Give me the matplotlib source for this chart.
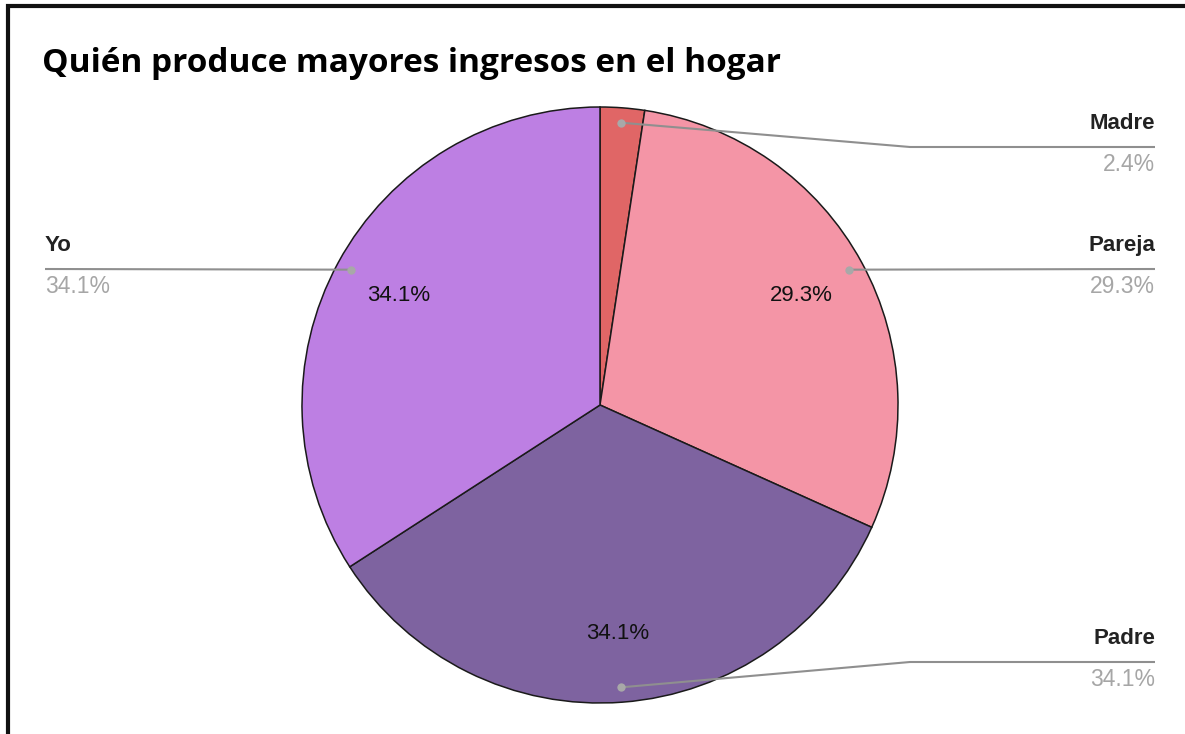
import numpy as np
from matplotlib import pyplot as plt

W, H = 1185, 734

labels = ["Madre", "Pareja", "Padre", "Yo"]
values = [2.4, 29.3, 34.1, 34.1]
colors = ["#e06666", "#f495a6", "#7e63a0", "#bd7fe3"]
title = "Quién produce mayores ingresos en el hogar"

# label anchor: (x of text edge, y of leader line, alignment, elbow x)
anchors = {
    "Madre": (1155, 147, "right", 910),
    "Pareja": (1155, 269, "right", None),
    "Padre": (1155, 662, "right", 910),
    "Yo": (45, 269, "left", None),
}


def main():
    fig = plt.figure(figsize=(W / 100, H / 100), dpi=100)
    ax = fig.add_axes([0, 0, 1, 1])

    cx, cy, r = 600, H - 405, 298
    wedges, _ = ax.pie(values, colors=colors, startangle=90, counterclock=False,
                       center=(cx, cy), radius=r,
                       wedgeprops=dict(edgecolor="#1a1a1a", linewidth=1.1))
    ax.set_xlim(0, W)
    ax.set_ylim(0, H)
    ax.set_aspect("auto")
    ax.axis("off")

    for w, lab, v in zip(wedges, labels, values):
        mid = np.deg2rad((w.theta1 + w.theta2) / 2)
        # inner percentage
        if v > 5:
            rr = 0.77 * r
            ax.text(cx + rr * np.cos(mid), cy + rr * np.sin(mid), f"{v}%",
                    ha="center", va="center", fontsize=16, color="#111111",
                    family="Liberation Sans")
        # leader line with dot
        dx, dy = cx + 0.95 * r * np.cos(mid), cy + 0.95 * r * np.sin(mid)
        tx, ly, ha, elbow = anchors[lab]
        ly = H - ly
        if elbow is None:
            xs, ys = [dx, tx], [dy, ly]
        else:
            xs, ys = [dx, elbow, tx], [dy, ly, ly]
        ax.plot(xs, ys, color="#8f8f8f", lw=1.5, solid_capstyle="butt")
        ax.plot(dx, dy, "o", color="#a8a8a8", ms=6, mec="none")
        ax.text(tx, ly + 18, lab, ha=ha, va="baseline", fontsize=16,
                fontweight="bold", color="#222222", family="Liberation Sans")
        ax.text(tx, ly - 24, f"{v}%", ha=ha, va="baseline", fontsize=16.5,
                color="#a6a6a6", family="Liberation Sans")

    fig.text(42 / W, 1 - 63 / H, title, ha="left", va="center", fontsize=24,
             fontweight="bold", color="#000000", family="Open Sans")

    # frame of the screenshot (left and top edges)
    ax.plot([7.5, 7.5, W], [0, H - 6, H - 6], color="#111111", lw=3,
            solid_joinstyle="miter")

    fig.savefig("out.png", dpi=100, facecolor="white")


if __name__ == "__main__":
    main()
